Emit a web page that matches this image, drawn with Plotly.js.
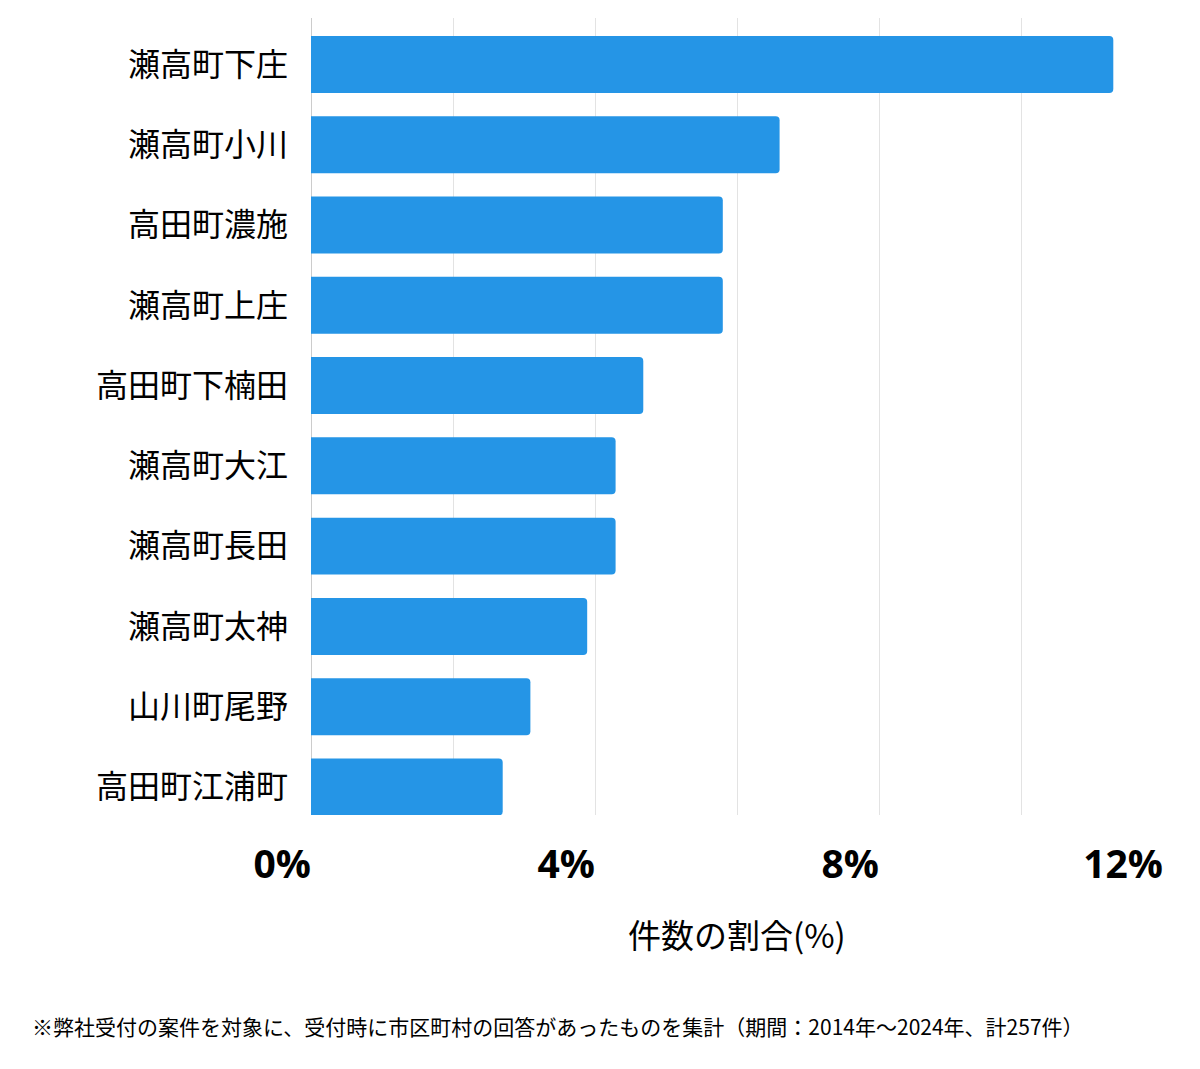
<!DOCTYPE html>
<html>
<head>
<meta charset="utf-8">
<script src="https://cdn.plot.ly/plotly-3.0.1.min.js"></script>
<style>html,body{margin:0;padding:0;background:#fff;}#chart{width:1200px;height:1069px;}</style>
</head>
<body>
<div id="chart"></div>
<script>
const categories = ["瀬高町下庄","瀬高町小川","高田町濃施","瀬高町上庄","高田町下楠田","瀬高町大江","瀬高町長田","瀬高町太神","山川町尾野","高田町江浦町"];
const shares = [11.3, 6.6, 5.8, 5.8, 4.68, 4.29, 4.29, 3.89, 3.09, 2.7];
const tickValues = [0, 2, 4, 6, 8, 10, 12];
const tickLabels = ["0%", "", "4%", "", "8%", "", "12%"];
const xTitle = "件数の割合(%)";
const footnote = "※弊社受付の案件を対象に、受付時に市区町村の回答があったものを集計（期間：2014年～2024年、計257件）";

const font = '"Noto Sans CJK JP", "Noto Sans", sans-serif';

Plotly.newPlot('chart', [{
  type: 'bar',
  orientation: 'h',
  y: categories,
  x: shares,
  width: 0.71,
  marker: {color: '#2595E6', cornerradius: 4},
  hoverinfo: 'none'
}], {
  width: 1200,
  height: 1069,
  margin: {l: 311, r: 37, t: 18, b: 254},
  paper_bgcolor: '#ffffff',
  plot_bgcolor: '#ffffff',
  showlegend: false,
  font: {family: font, color: '#000'},
  xaxis: {
    range: [0, 12],
    tickvals: tickValues,
    ticktext: tickLabels,
    ticklabelposition: 'outside left',
    ticklabelstandoff: 23,
    tickfont: {family: '"Open Sans", sans-serif', size: 39, color: '#000', weight: 'bold'},
    showgrid: true,
    gridcolor: '#e3e3e3',
    gridwidth: 1,
    zeroline: true,
    zerolinecolor: '#cccccc',
    zerolinewidth: 1,
    showline: false,
    fixedrange: true
  },
  yaxis: {
    range: [9.35, -0.58],
    tickfont: {family: font, size: 32, color: '#000'},
    ticklabelstandoff: 22,
    showgrid: false,
    zeroline: false,
    showline: false,
    fixedrange: true
  },
  annotations: [
    {text: xTitle, xref: 'paper', yref: 'paper', x: 0.5, y: -0.1490, xanchor: 'center', yanchor: 'middle', showarrow: false, font: {family: font, size: 33, color: '#000'}},
    {text: footnote, xref: 'paper', yref: 'paper', x: -0.3298, y: -0.2650, xanchor: 'left', yanchor: 'middle', showarrow: false, font: {family: font, size: 21, color: '#000'}}
  ]
}, {staticPlot: true});
</script>
</body>
</html>
